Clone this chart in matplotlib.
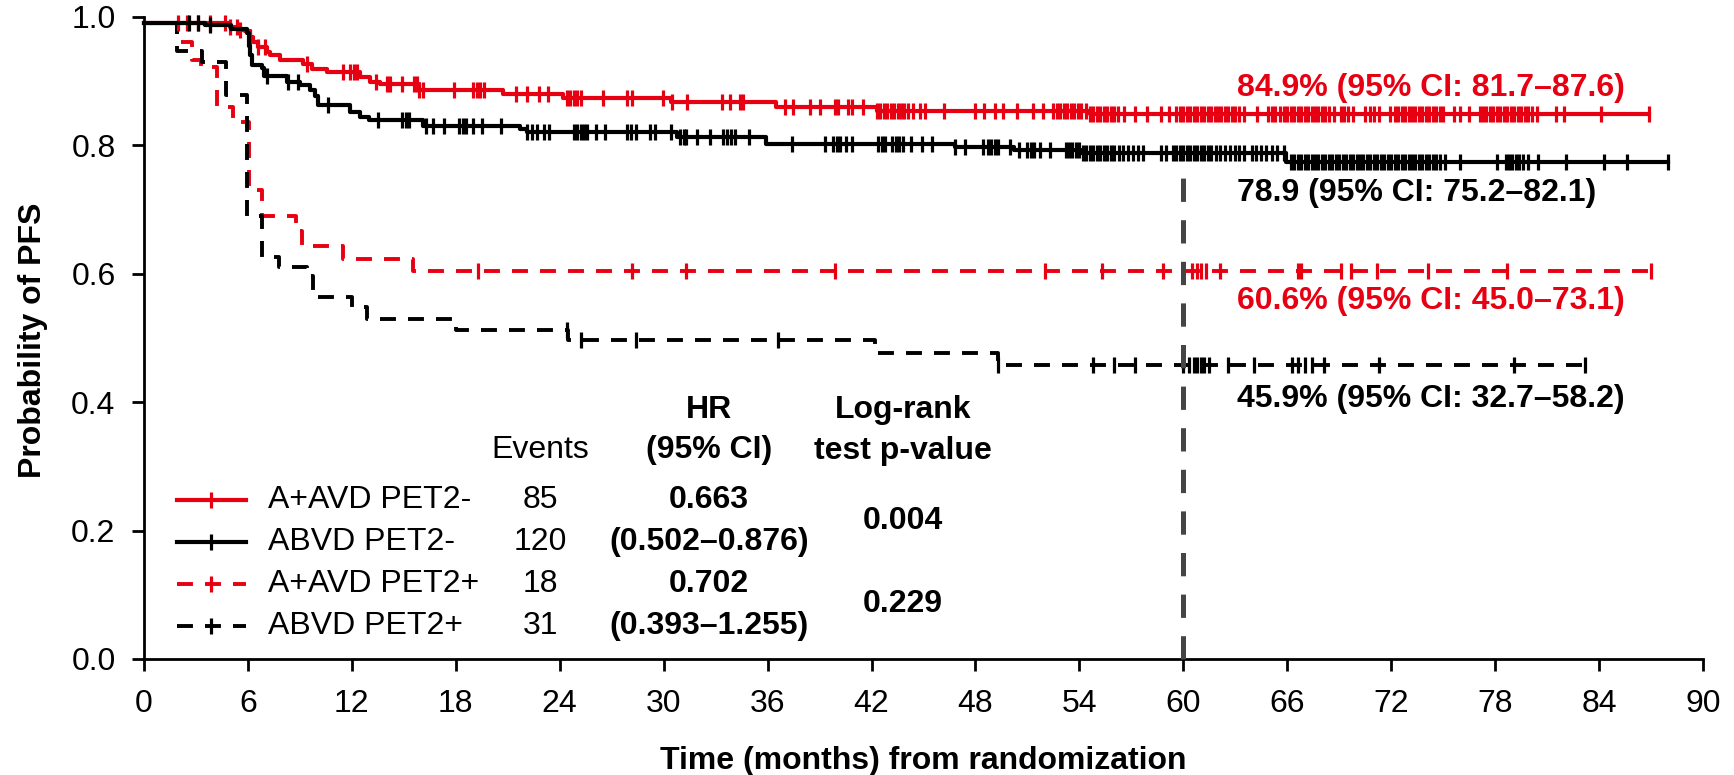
import numpy as np
import matplotlib
matplotlib.use("Agg")
import matplotlib.pyplot as plt

plt.rcParams['font.family'] = ['Liberation Sans', 'DejaVu Sans']

RED = '#e60012'
BLACK = '#000000'
FS = 23

# --- Kaplan-Meier curves: step times (months) and survival after each step

# A+AVD PET2-
aavd_neg_t = [0, 4.97, 5.5, 5.83, 6.1, 6.3, 6.6, 7.1, 7.27, 7.85, 9.2, 9.68, 10.55, 12.47, 13.05,
              13.6, 15.9, 20.7, 24.2, 30.4, 36.5, 42.3, 54.6]
aavd_neg_s = [0.99, 0.984, 0.98, 0.977, 0.969, 0.961, 0.953, 0.945, 0.94, 0.932, 0.926, 0.919, 0.914,
              0.906, 0.899, 0.895, 0.886, 0.879, 0.874, 0.867, 0.860, 0.853, 0.849]
aavd_neg_end = 86.9
aavd_neg_cens = [1.98, 2.46, 3.14, 3.81, 4.68, 4.97, 5.35, 5.54, 6.12, 6.6, 6.98, 9.4, 11.5, 11.9, 12.1,
                 12.3, 13.4, 14.0, 14.2, 14.9, 15.6, 15.75, 15.9, 16.1, 17.9, 19.0, 19.2, 19.4, 19.6,
                 21.5, 22.1, 22.8, 23.3, 24.4, 24.6, 24.8, 25.0, 25.2, 26.5, 27.9, 28.15, 29.98,
                 30.47, 31.33, 33.35, 33.83, 34.41, 34.6, 37.0, 37.49, 38.45, 39.03, 39.9, 40.09,
                 40.67, 40.86, 41.53, 42.3, 42.5, 42.7, 42.9, 43.1, 43.3, 43.5, 43.7, 43.9, 44.1,
                 44.4, 44.8, 45.1, 46.2, 48.0, 48.5, 49.1, 49.6, 50.4, 51.35, 51.9, 52.5, 52.7, 52.9,
                 53.1, 53.3, 53.5, 53.7, 53.9, 54.1, 54.4, 54.6, 54.8, 55.0, 55.2, 55.4, 55.6, 55.8,
                 56.0, 56.2, 56.55, 57.2, 57.9, 58.7, 59.2, 59.6, 59.8, 60.0, 60.2, 60.4, 60.6, 60.8,
                 61.0, 61.2, 61.4, 61.6, 61.8, 62.0, 62.2, 62.4, 62.6, 62.8, 63.0, 63.2, 63.5, 64.25,
                 64.9, 65.1, 65.3, 65.6, 65.8, 66.0, 66.2, 66.4, 66.6, 66.8, 67.0, 67.2, 67.4, 67.6,
                 67.8, 68.0, 68.2, 68.4, 68.7, 69.1, 69.3, 69.5, 69.8, 70.5, 70.75, 71.0, 71.3, 71.95,
                 72.2, 72.4, 72.6, 72.8, 73.0, 73.2, 73.4, 73.6, 73.8, 74.0, 74.2, 74.4, 74.6, 74.8,
                 75.0, 75.6, 76.0, 76.5, 77.1, 77.3, 77.5, 77.7, 77.9, 78.1, 78.3, 78.5, 78.7, 78.9,
                 79.1, 79.3, 79.5, 79.7, 79.9, 80.1, 80.4, 81.5, 81.95, 84.1, 86.9]

# ABVD PET2-
abvd_neg_t = [0, 3.55, 5.0, 5.96, 6.05, 6.12, 6.22, 6.8, 6.9, 8.24, 9.0, 9.58, 9.87, 10.06, 11.9,
              12.47, 13.0, 16.1, 21.7, 22.1, 30.75, 35.9, 46.8, 50.2, 54.1, 65.9]
abvd_neg_s = [0.99, 0.987, 0.981, 0.975, 0.955, 0.94, 0.925, 0.92, 0.907, 0.899, 0.894, 0.886, 0.876,
              0.862, 0.852, 0.844, 0.839, 0.830, 0.825, 0.821, 0.813, 0.802, 0.797, 0.793, 0.788, 0.774]
abvd_neg_end = 88.0
abvd_neg_cens = [2.6, 3.1, 3.8, 7.1, 8.3, 8.9, 10.6, 13.5, 14.9, 15.1, 15.3, 16.3, 16.7, 17.3, 18.2,
                 18.4, 18.6, 19.0, 19.5, 20.6, 22.1, 22.4, 22.7, 23.1, 23.4, 24.8, 25.0, 25.2, 25.4,
                 25.6, 26.1, 26.6, 27.9, 28.1, 28.4, 29.2, 29.5, 30.4, 30.95, 31.15, 31.3, 31.9, 32.7,
                 33.45, 33.65, 33.9, 34.1, 34.9, 37.4, 39.3, 39.8, 40.0, 40.2, 40.5, 40.9, 42.4, 42.6,
                 42.8, 43.2, 43.4, 43.6, 43.8, 44.3, 44.9, 45.5, 46.8, 47.4, 48.46, 48.7, 48.9, 49.1,
                 49.3, 50.0, 50.5, 51.0, 51.2, 51.4, 51.7, 52.3, 53.2, 53.4, 53.6, 53.8, 54.0, 54.2,
                 54.4, 54.6, 54.8, 55.0, 55.2, 55.4, 55.6, 55.8, 56.0, 56.3, 56.5, 56.8, 57.1, 57.4,
                 57.7, 58.7, 59.0, 59.4, 59.6, 59.8, 60.0, 60.2, 60.4, 60.6, 60.8, 61.0, 61.2, 61.4,
                 61.6, 61.9, 62.1, 62.4, 62.7, 63.0, 63.2, 63.5, 63.95, 64.2, 64.5, 64.8, 65.1, 65.4,
                 65.8, 66.2, 66.4, 66.6, 66.8, 67.0, 67.2, 67.4, 67.6, 67.8, 68.0, 68.2, 68.4, 68.6,
                 68.8, 69.0, 69.2, 69.4, 69.6, 69.8, 70.0, 70.2, 70.4, 70.6, 70.8, 71.0, 71.2, 71.4,
                 71.6, 71.8, 72.0, 72.2, 72.4, 72.6, 72.8, 73.0, 73.2, 73.4, 73.6, 73.8, 74.0, 74.2,
                 74.4, 74.6, 74.8, 75.1, 76.0, 78.1, 78.6, 78.8, 79.0, 79.2, 79.4, 79.6, 79.9, 80.5,
                 82.1, 84.3, 85.6, 88.0]

# A+AVD PET2+
aavd_pos_t = [0, 1.9, 2.75, 3.3, 4.24, 5.16, 6.06, 6.8, 8.8, 9.1, 11.5, 15.55]
aavd_pos_s = [0.99, 0.961, 0.932, 0.922, 0.860, 0.836, 0.730, 0.689, 0.666, 0.643, 0.622, 0.604]
aavd_pos_end = 87.0
aavd_pos_cens = [19.3, 28.2, 31.3, 39.9, 52.0, 55.3, 58.8, 60.5, 60.8, 61.0, 61.3, 62.1, 66.6, 66.8,
                 69.1, 69.7, 71.2, 74.1, 78.7, 87.0]

# ABVD PET2+
abvd_pos_t = [0, 1.9, 3.33, 4.75, 5.93, 6.8, 7.8, 9.4, 9.75, 12.0, 12.9, 18.0, 24.5, 42.2, 49.3]
abvd_pos_s = [0.99, 0.946, 0.930, 0.878, 0.689, 0.626, 0.611, 0.597, 0.564, 0.548, 0.530, 0.512,
              0.497, 0.477, 0.458]
abvd_pos_end = 83.2
abvd_pos_cens = [24.4, 25.2, 28.4, 36.6, 49.3, 54.8, 56.0, 57.2, 60.0, 60.3, 60.6, 60.8, 61.0, 61.2,
                 61.5, 62.6, 64.1, 66.3, 66.6, 67.0, 67.4, 68.1, 71.3, 79.1, 83.2]

# --- table / annotation text
group_names = ['A+AVD PET2-', 'ABVD PET2-', 'A+AVD PET2+', 'ABVD PET2+']
group_colors = [RED, BLACK, RED, BLACK]
group_dashed = [False, False, True, True]
events = [85, 120, 18, 31]
hr_text = ['0.663', '(0.502\u20130.876)', '0.702', '(0.393\u20131.255)']
pvalues = ['0.004', '0.229']
landmark_labels = ['84.9% (95% CI: 81.7\u201387.6)', '78.9 (95% CI: 75.2\u201382.1)',
                   '60.6% (95% CI: 45.0\u201373.1)', '45.9% (95% CI: 32.7\u201358.2)']
landmark_colors = [RED, BLACK, RED, BLACK]
landmark_month = 60

x_ticks = list(range(0, 91, 6))
y_ticks = [0.0, 0.2, 0.4, 0.6, 0.8, 1.0]

SOLID_LW = 3.0
DASH_LW = 2.8
DASH = (0, (4.1, 3.1))


def draw_km(ax, t, s, end, cens, color, dashed, z):
    x = list(t) + [end]
    y = list(s) + [s[-1]]
    if dashed:
        ax.step(x, y, where='post', color=color, lw=DASH_LW, linestyle=DASH, clip_on=False, zorder=z)
    else:
        ax.step(x, y, where='post', color=color, lw=SOLID_LW, clip_on=False, zorder=z)
    idx = np.searchsorted(t, cens, side='right') - 1
    ax.plot(cens, np.array(s)[idx], ls='none', marker='|', ms=11.5, mew=2.3,
            color=color, clip_on=False, zorder=z + 0.5)


fig = plt.figure(figsize=(17.34, 7.75), dpi=100)
ax = fig.add_axes([144 / 1734, 116 / 775, 1559 / 1734, 642.3 / 775])

draw_km(ax, aavd_pos_t, aavd_pos_s, aavd_pos_end, aavd_pos_cens, RED, True, 2)
draw_km(ax, abvd_pos_t, abvd_pos_s, abvd_pos_end, abvd_pos_cens, BLACK, True, 3)
draw_km(ax, aavd_neg_t, aavd_neg_s, aavd_neg_end, aavd_neg_cens, RED, False, 4)
draw_km(ax, abvd_neg_t, abvd_neg_s, abvd_neg_end, abvd_neg_cens, BLACK, False, 5)

# 60-month landmark line
ax.plot([landmark_month, landmark_month], [0, 0.757], color='#454545', lw=3.6,
        linestyle=(0, (4.66, 3.66)), zorder=7, clip_on=False)

ax.set_xlim(0, 90)
ax.set_ylim(0, 1.0)
ax.set_xticks(x_ticks)
ax.set_yticks(y_ticks)
ax.set_yticklabels([f'{v:.1f}' for v in y_ticks])
ax.spines['top'].set_visible(False)
ax.spines['right'].set_visible(False)
for sp in ['left', 'bottom']:
    ax.spines[sp].set_linewidth(2)
ax.tick_params(axis='both', direction='out', length=8.5, width=2, labelsize=FS)
ax.tick_params(axis='x', pad=13)
ax.tick_params(axis='y', pad=12)

fig.text(0.5326, 0.018, 'Time (months) from randomization', ha='center', va='center',
         fontsize=FS, fontweight='bold')
fig.text(0.019, 0.5613, 'Probability of PFS', ha='center', va='center', rotation=90,
         fontsize=FS, fontweight='bold')

# landmark estimates
for lab, col, yy in zip(landmark_labels, landmark_colors, [0.889, 0.725, 0.558, 0.405]):
    ax.text(63.08, yy, lab, color=col, fontsize=FS, fontweight='bold', ha='left', va='center')

# legend / table
row_y = [0.248, 0.1825, 0.117, 0.0515]
for name, col, dashed, ev, hr, yy in zip(group_names, group_colors, group_dashed, events, hr_text, row_y):
    if dashed:
        ax.plot([1.88, 5.89], [yy, yy], color=col, lw=DASH_LW, linestyle=DASH, clip_on=False)
    else:
        ax.plot([1.88, 5.89], [yy, yy], color=col, lw=SOLID_LW, clip_on=False)
    ax.plot([3.87], [yy], marker='|', ms=11.5, mew=2.3, color=col, clip_on=False)
    ax.text(7.18, yy, name, fontsize=FS, ha='left', va='center')
    ax.text(22.9, yy, str(ev), fontsize=FS, ha='center', va='center')
    ax.text(32.6, yy, hr, fontsize=FS, ha='center', va='center', fontweight='bold')

ax.text(22.9, 0.325, 'Events', fontsize=FS, ha='center', va='center')
ax.text(32.6, 0.387, 'HR', fontsize=FS, ha='center', va='center', fontweight='bold')
ax.text(32.6, 0.325, '(95% CI)', fontsize=FS, ha='center', va='center', fontweight='bold')
ax.text(43.8, 0.387, 'Log-rank', fontsize=FS, ha='center', va='center', fontweight='bold')
ax.text(43.8, 0.324, 'test p-value', fontsize=FS, ha='center', va='center', fontweight='bold')
for pv, yy in zip(pvalues, [0.215, 0.086]):
    ax.text(43.8, yy, pv, fontsize=FS, ha='center', va='center', fontweight='bold')

fig.savefig('out.png', dpi=100)
